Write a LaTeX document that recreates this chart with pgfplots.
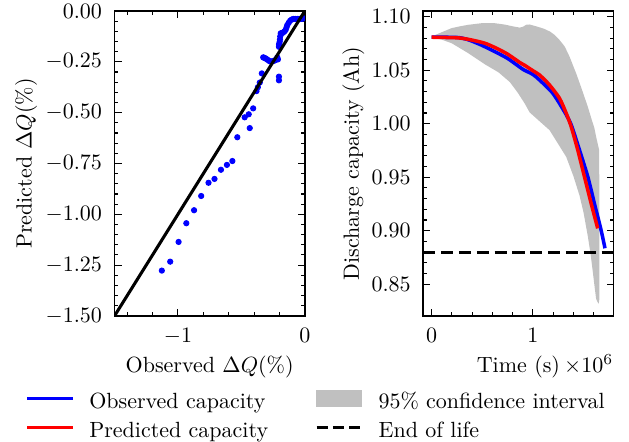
\documentclass[border=0pt]{standalone}
\usepackage{pgfplots}
\pgfplotsset{compat=1.18}
\definecolor{band}{RGB}{192,192,192}
\pgfplotsset{
  panel/.style={
    scale only axis, width=86.5pt, height=138.6pt,
    anchor=south west,
    axis line style={line width=0.8pt},
    every tick/.style={black, line width=0.5pt},
    major tick length=3.2pt, minor tick length=1.8pt,
    tick align=inside, xtick pos=both, ytick pos=both,
    xticklabel pos=left, yticklabel pos=left,
    xticklabel shift=2.1pt, yticklabel shift=2.2pt,
    clip marker paths=true,
  },
  lineimg/.style={legend image code/.code={\draw[##1] (0pt,0pt) -- (20.7pt,0pt);}},
  patchimg/.style={legend image code/.code={\fill[##1] (0pt,-3.8pt) rectangle (20.5pt,3.8pt);}},
}
\begin{document}
\begin{tikzpicture}
\useasboundingbox (0,0) rectangle (285.9pt,200.9pt);
% ---------------- left panel ----------------
\begin{axis}[panel, at={(52.05pt,57.3pt)},
  xmin=-1.5, xmax=0, ymin=-1.5, ymax=0,
  xtick={-1,0}, minor xtick={-1.4,-1.2,-0.8,-0.6,-0.4,-0.2},
  ytick={-1.5,-1.25,-1,-0.75,-0.5,-0.25,0}, minor y tick num=4,
  yticklabel style={/pgf/number format/.cd, fixed, fixed zerofill, precision=2},
  xlabel={Observed $\Delta Q(\%)$},
  ylabel={Predicted $\Delta Q(\%)$},
  xlabel style={at={(axis description cs:0.5,-0.1861)}, anchor=base},
  ylabel style={at={(axis description cs:-0.4647,0.5)}, anchor=center},
]
\addplot[only marks, mark=*, mark size=1.2pt, color=blue, mark options={draw=none, fill=blue}] coordinates {
(-1.199,-1.51) (-1.127,-1.277) (-1.061,-1.233) (-0.995,-1.136) (-0.934,-1.044)
(-0.873,-0.980) (-0.817,-0.910) (-0.759,-0.845) (-0.712,-0.826) (-0.661,-0.781)
(-0.614,-0.757) (-0.571,-0.738) (-0.532,-0.621) (-0.474,-0.523) (-0.442,-0.508)
(-0.434,-0.576) (-0.407,-0.479) (-0.381,-0.394) (-0.370,-0.375) (-0.355,-0.352)
(-0.339,-0.307) (-0.328,-0.228) (-0.320,-0.230) (-0.310,-0.233) (-0.300,-0.237)
(-0.291,-0.241) (-0.280,-0.246) (-0.270,-0.249) (-0.260,-0.248) (-0.249,-0.246)
(-0.240,-0.244) (-0.230,-0.241) (-0.217,-0.228) (-0.212,-0.238)
(-0.204,-0.323) (-0.204,-0.341) (-0.204,-0.176) (-0.203,-0.165) (-0.201,-0.160)
(-0.198,-0.151) (-0.196,-0.140) (-0.194,-0.125) (-0.190,-0.110) (-0.181,-0.108)
(-0.172,-0.107) (-0.160,-0.100) (-0.151,-0.093) (-0.144,-0.080) (-0.138,-0.069)
(-0.127,-0.058) (-0.116,-0.048) (-0.103,-0.042) (-0.090,-0.039) (-0.075,-0.039)
(-0.058,-0.039) (-0.045,-0.039) (-0.032,-0.039) (-0.020,-0.038) (-0.011,-0.036)
};
\addplot[black, line width=1.4pt] coordinates {(-1.5,-1.5) (0,0)};
\end{axis}
% ---------------- right panel ----------------
\begin{axis}[panel, at={(192.4pt,57.3pt)},
  xmin=-0.083, xmax=1.797, ymin=0.8204, ymax=1.1053,
  xtick={0,1}, minor xtick={0.2,0.4,0.6,0.8,1.2,1.4,1.6},
  ytick={0.85,0.90,0.95,1.00,1.05,1.10}, minor y tick num=4,
  yticklabel style={/pgf/number format/.cd, fixed, fixed zerofill, precision=2},
  xlabel={Time (s)},
  ylabel={Discharge capacity (Ah)},
  xlabel style={at={(axis description cs:0.5,-0.1861)}, anchor=base},
  ylabel style={at={(axis description cs:-0.3676,0.5)}, anchor=center},
  after end axis/.code={\node[anchor=base east, inner sep=0pt] at (rel axis cs:1,-0.1861) {$\times10^{6}$};},
  legend style={inner sep=0pt, outer sep=0pt, draw=none, fill=none,
    at={(axis description cs:-2.0867,-0.2255)}, anchor=north west,
    column sep=7pt, row sep=0.6pt,
    /tikz/every even column/.append style={column sep=21.5pt},
    nodes={inner sep=0pt, text height=10.6pt, text depth=2pt}},
  legend columns=2, legend cell align=left,
]
\addplot[fill=band, draw=none, forget plot] coordinates {
(0,1.0815) (0.1,1.0855) (0.197,1.0893) (0.28,1.0910) (0.361,1.0924) (0.492,1.0939)
(0.624,1.0939) (0.722,1.0926) (0.80,1.0910) (0.869,1.0898) (0.90,1.0905) (0.935,1.0925)
(0.967,1.0927) (1.05,1.0905) (1.115,1.0885) (1.17,1.0860) (1.214,1.0830) (1.263,1.0782)
(1.314,1.0721) (1.36,1.0630) (1.427,1.0471) (1.48,1.0330) (1.542,1.0159) (1.58,1.0040)
(1.607,0.9960) (1.624,0.9879) (1.655,0.9750) (1.656,0.8360) (1.650,0.8320) (1.640,0.8330)
(1.624,0.8365) (1.61,0.8470) (1.591,0.8620) (1.57,0.8780) (1.542,0.8950) (1.50,0.9170)
(1.46,0.9330) (1.40,0.9510) (1.329,0.9690) (1.23,0.9840) (1.164,0.9940)
(1.05,1.0036) (0.968,1.0105) (0.918,1.0190) (0.85,1.0290) (0.771,1.0390) (0.66,1.0480)
(0.525,1.0555) (0.361,1.0659) (0.197,1.0752) (0.1,1.0785) (0,1.0805)
} -- cycle;
\addplot[blue, line width=1.6pt, smooth, tension=0.4, forget plot] coordinates {
(0,1.0808) (0.25,1.0806) (0.36,1.0785) (0.49,1.0735) (0.62,1.0675) (0.75,1.0610)
(0.886,1.0518) (0.91,1.0503) (1.0,1.0460) (1.066,1.0408) (1.197,1.0284) (1.312,1.0112)
(1.378,0.9990) (1.46,0.9754) (1.542,0.9505) (1.607,0.9256) (1.673,0.9007) (1.712,0.8836)
};
\addplot[red, line width=1.6pt, smooth, tension=0.4, forget plot] coordinates {
(0,1.0808) (0.26,1.0802) (0.39,1.0783) (0.525,1.0752) (0.64,1.0705) (0.75,1.0650)
(0.87,1.0572) (0.92,1.0545) (1.0,1.0495) (1.066,1.0455) (1.164,1.0362) (1.263,1.0237)
(1.329,1.0097) (1.378,0.9972) (1.443,0.9754) (1.509,0.9505) (1.575,0.9256) (1.640,0.9022)
};
\addplot[black, line width=1.4pt, dash pattern=on 5.5pt off 2.6pt, forget plot] coordinates {(-0.083,0.88) (1.797,0.88)};
\addlegendimage{blue, line width=1pt, lineimg}
\addlegendentry{Observed capacity}
\addlegendimage{band, patchimg}
\addlegendentry{95\% confidence interval}
\addlegendimage{red, line width=1pt, lineimg}
\addlegendentry{Predicted capacity}
\addlegendimage{black, line width=1pt, dash pattern=on 5pt off 2.4pt, lineimg}
\addlegendentry{End of life}
\end{axis}
\end{tikzpicture}
\end{document}
